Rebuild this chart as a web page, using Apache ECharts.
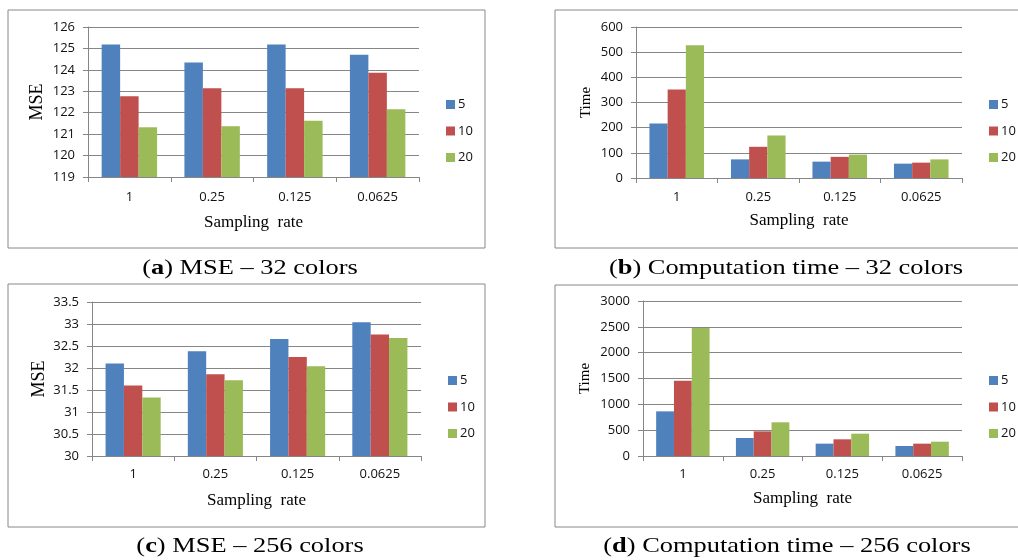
<!DOCTYPE html>
<html>
<head>
<meta charset="utf-8">
<script src="https://cdn.jsdelivr.net/npm/echarts@6/dist/echarts.min.js"></script>
<style>
html,body{margin:0;padding:0;background:#fff;}
#c{width:1018px;height:560px;}
</style>
</head>
<body>
<div id="c"></div>
<script>
const categories = ['1', '0.25', '0.125', '0.0625'];
const seriesNames = ['5', '10', '20'];

// (a) MSE - 32 colors
const mse32_5  = [125.18, 124.34, 125.18, 124.70];
const mse32_10 = [122.77, 123.14, 123.14, 123.86];
const mse32_20 = [121.32, 121.37, 121.63, 122.16];

// (b) Computation time - 32 colors
const time32_5  = [217, 74, 65, 57];
const time32_10 = [352, 124, 84, 61];
const time32_20 = [527, 169, 93, 74];

// (c) MSE - 256 colors
const mse256_5  = [32.10, 32.38, 32.66, 33.04];
const mse256_10 = [31.60, 31.86, 32.25, 32.76];
const mse256_20 = [31.33, 31.72, 32.04, 32.68];

// (d) Computation time - 256 colors
const time256_5  = [864, 348, 239, 194];
const time256_10 = [1458, 477, 323, 239];
const time256_20 = [2477, 652, 432, 277];

const captions = [
  ['a', ') MSE – 32 colors'],
  ['b', ') Computation time – 32 colors'],
  ['c', ') MSE – 256 colors'],
  ['d', ') Computation time – 256 colors']
];
const xAxisTitle = 'Sampling  rate';

const colors = ['#4F81BD', '#C0504D', '#9BBB59'];
const sans = '"Open Sans", "Liberation Sans", sans-serif';
const serif = '"Liberation Serif", "DejaVu Serif", serif';

const panels = [
  { grid: {left: 88, top: 27, width: 331, height: 150},
    y: {min: 119, max: 126, interval: 1, name: 'MSE', gap: 42, size: 18},
    data: [mse32_5, mse32_10, mse32_20], legend: {left: 441, top: 93}, xGap: 37, catMargin: 14,
    box: [8, 10, 477, 238], cap: [250, 268] },
  { grid: {left: 636, top: 27, width: 326, height: 151},
    y: {min: 0, max: 600, interval: 100, name: 'Time', gap: 42, size: 15},
    data: [time32_5, time32_10, time32_20], legend: {left: 984, top: 93}, xGap: 34, catMargin: 13,
    box: [555, 10, 470, 238], cap: [786, 268] },
  { grid: {left: 92, top: 302, width: 329, height: 154},
    y: {min: 30, max: 33.5, interval: 0.5, name: 'MSE', gap: 44, size: 18},
    data: [mse256_5, mse256_10, mse256_20], legend: {left: 443, top: 369}, xGap: 36, catMargin: 12,
    box: [8, 284, 477, 243], cap: [250, 546] },
  { grid: {left: 643, top: 301, width: 319, height: 155},
    y: {min: 0, max: 3000, interval: 500, name: 'Time', gap: 50, size: 15},
    data: [time256_5, time256_10, time256_20], legend: {left: 984, top: 369}, xGap: 34, catMargin: 12,
    box: [555, 285, 470, 242], cap: [787, 546] }
];

const option = {
  animation: false,
  backgroundColor: '#fff',
  color: colors,
  grid: [], xAxis: [], yAxis: [], series: [], legend: [], graphic: []
};

panels.forEach((p, i) => {
  option.grid.push(Object.assign({containLabel: false}, p.grid));
  option.xAxis.push({
    type: 'category', gridIndex: i, data: categories,
    name: xAxisTitle, nameLocation: 'middle', nameGap: p.xGap,
    nameTextStyle: {fontFamily: serif, fontSize: 17, color: '#000'},
    axisLine: {lineStyle: {color: '#868686', width: 1}},
    axisTick: {show: true, alignWithLabel: false, length: 5, lineStyle: {color: '#868686'}},
    axisLabel: {fontFamily: sans, fontSize: 13, color: '#111', margin: p.catMargin}
  });
  option.yAxis.push({
    type: 'value', gridIndex: i, min: p.y.min, max: p.y.max, interval: p.y.interval,
    name: p.y.name, nameLocation: 'middle', nameGap: p.y.gap, nameRotate: 90,
    nameTextStyle: {fontFamily: serif, fontSize: p.y.size, color: '#000'},
    axisLine: {show: true, lineStyle: {color: '#868686', width: 1}},
    axisTick: {show: true, length: 5, lineStyle: {color: '#868686'}},
    axisLabel: {fontFamily: sans, fontSize: 13, color: '#111', margin: 13,
                formatter: function (v) { return String(v); }},
    splitLine: {show: true, lineStyle: {color: '#868686', width: 1}}
  });
  p.data.forEach((d, k) => {
    option.series.push({
      type: 'bar', name: seriesNames[k], xAxisIndex: i, yAxisIndex: i, data: d,
      barGap: '0%', barCategoryGap: '33%',
      itemStyle: {color: colors[k]}
    });
  });
  option.legend.push({
    left: p.legend.left, top: p.legend.top, orient: 'vertical', itemGap: 13.5,
    itemWidth: 9, itemHeight: 9, icon: 'rect', data: seriesNames,
    textStyle: {fontFamily: sans, fontSize: 13, color: '#111', padding: [0, 0, 0, -2]}
  });
  option.graphic.push({
    type: 'rect', shape: {x: p.box[0], y: p.box[1], width: p.box[2], height: p.box[3]},
    style: {fill: 'none', stroke: '#888', lineWidth: 1}, silent: true
  });
  option.graphic.push({
    type: 'text', x: p.cap[0], y: p.cap[1], scaleX: 1.2,
    style: {
      text: '{n|(}{b|' + captions[i][0] + '}{n|' + captions[i][1] + '}',
      align: 'center', verticalAlign: 'middle',
      rich: {
        n: {fontFamily: serif, fontSize: 22, color: '#000'},
        b: {fontFamily: serif, fontSize: 22, fontWeight: 'bold', color: '#000'}
      }
    }
  });
});

const chart = echarts.init(document.getElementById('c'), null, {renderer: 'canvas'});
chart.setOption(option);
</script>
</body>
</html>
